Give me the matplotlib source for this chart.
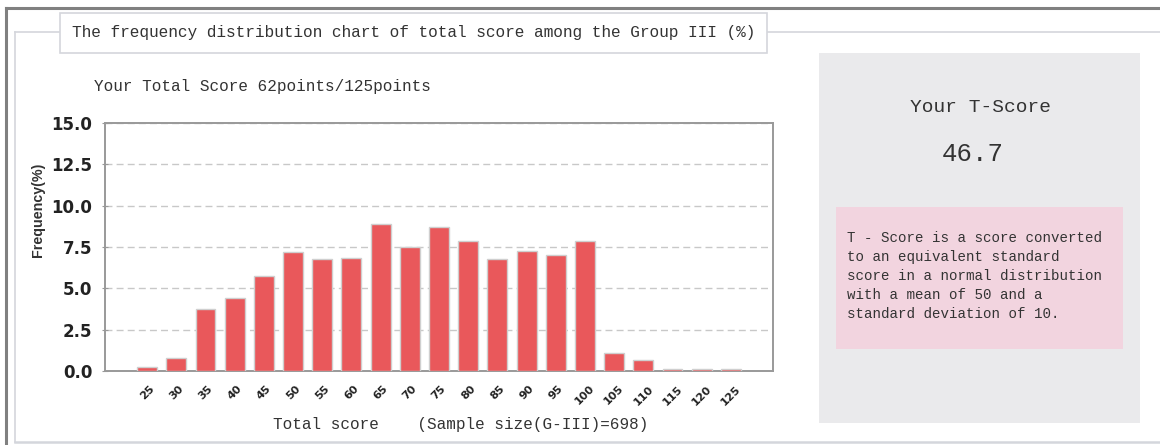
'''
Frequency distribution plot of total score for Group III, with T-score panel.
'''

# -----------------------------------------------------------------------------
# Modules

from matplotlib import pyplot as plt
from matplotlib.patches import Rectangle
from matplotlib.lines import Line2D

# -----------------------------------------------------------------------------
# Data

scores = ['25', '30', '35', '40', '45', '50', '55', '60', '65', '70', '75',
          '80', '85', '90', '95', '100', '105', '110', '115', '120', '125']
frequency = [0.25, 0.81, 3.74, 4.43, 5.74, 7.18, 6.75, 6.85, 8.89, 7.48,
             8.73, 7.86, 6.77, 7.28, 7.01, 7.86, 1.07, 0.65, 0.14, 0.14,
             0.14]
y_ticks = [0.0, 2.5, 5.0, 7.5, 10.0, 12.5, 15.0]

title = 'The frequency distribution chart of total score among the Group III (%)'
score_text = 'Your Total Score 62points/125points'
x_label = 'Total score    (Sample size(G-III)=698)'
t_score = '46.7'
t_note = ('T - Score is a score converted\n'
          'to an equivalent standard\n'
          'score in a normal distribution\n'
          'with a mean of 50 and a\n'
          'standard deviation of 10.')

# -----------------------------------------------------------------------------

W, H = 1160, 445
mono = ['Liberation Mono', 'DejaVu Sans Mono']
text_color = '#333333'

figure = plt.figure(figsize=(W / 100, H / 100), dpi=100)

# Background layer in pixel coordinates for frames and side panel
bg = figure.add_axes([0, 0, 1, 1])
bg.set_xlim(0, W)
bg.set_ylim(H, 0)
bg.axis('off')

bg.add_line(Line2D([6, 6], [8, H], color='#808080', lw=2.2))
bg.add_line(Line2D([6, W], [8, 8], color='#808080', lw=2.2))
bg.add_line(Line2D([15, 15], [32, 442], color='#d4d6dc', lw=1.2))
bg.add_line(Line2D([15, W], [32, 32], color='#d4d6dc', lw=1.2))
bg.add_line(Line2D([15, W], [442, 442], color='#d4d6dc', lw=1.8))

bg.add_patch(Rectangle((60, 13), 707, 40, facecolor='white',
                       edgecolor='#d4d6dc', lw=1.2, zorder=3))
bg.text(414, 33, title, family=mono, fontsize=11.6, color=text_color,
        ha='center', va='center', zorder=4)

bg.text(94, 86, score_text, family=mono, fontsize=11.5, color=text_color,
        ha='left', va='center')
bg.text(461, 424, x_label, family=mono, fontsize=11.5, color=text_color,
        ha='center', va='center')

# T-score panel
bg.add_patch(Rectangle((819, 53), 321, 370, facecolor='#eaeaec',
                       edgecolor='none'))
bg.add_patch(Rectangle((836, 207), 287, 142, facecolor='#f2d4df',
                       edgecolor='none'))
bg.text(980, 108, 'Your T-Score', family=mono, fontsize=14,
        color=text_color, ha='center', va='center')
bg.text(973, 154, t_score, family=mono, fontsize=18.5, color=text_color,
        ha='center', va='center')
bg.text(847, 231, t_note, family=mono, fontsize=10.2, color=text_color,
        ha='left', va='top', linespacing=1.45)

# Bar chart
ax = figure.add_axes([105 / W, 1 - 371 / H, 668 / W, 248 / H])
positions = list(range(len(scores)))
ax.bar(positions, frequency, width=0.68, color='#e9585b',
       edgecolor='#cfcfcf', linewidth=1.0, zorder=3)

ax.set_xlim(-1.44, len(scores) - 1 + 1.44)
ax.set_ylim(0, 15)
ax.set_yticks(y_ticks)
ax.set_yticklabels(['{:.1f}'.format(v) for v in y_ticks], fontsize=12,
                   family='DejaVu Sans', fontweight='bold', color='#222222')
ax.set_xticks(positions)
ax.set_xticklabels(scores, rotation=45, ha='center', va='top', fontsize=8,
                   family='DejaVu Sans', fontweight='bold', color='#222222')
ax.tick_params(axis='y', direction='inout', length=4, color='#999999',
               pad=7)
ax.tick_params(axis='x', length=0, pad=9)
ax.yaxis.grid(True, linestyle=(0, (5, 3)), color='#c8c8c8', lw=1.0,
              zorder=0)
for spine in ax.spines.values():
    spine.set_color('#999999')
    spine.set_linewidth(1.4)

ax.set_ylabel('Frequency(%)', fontsize=10.3, fontweight='bold',
              family=['Liberation Sans Narrow', 'Liberation Sans'],
              color=text_color)
ax.yaxis.set_label_coords(-0.09, 0.649)

figure.savefig('out.png', dpi=100)
